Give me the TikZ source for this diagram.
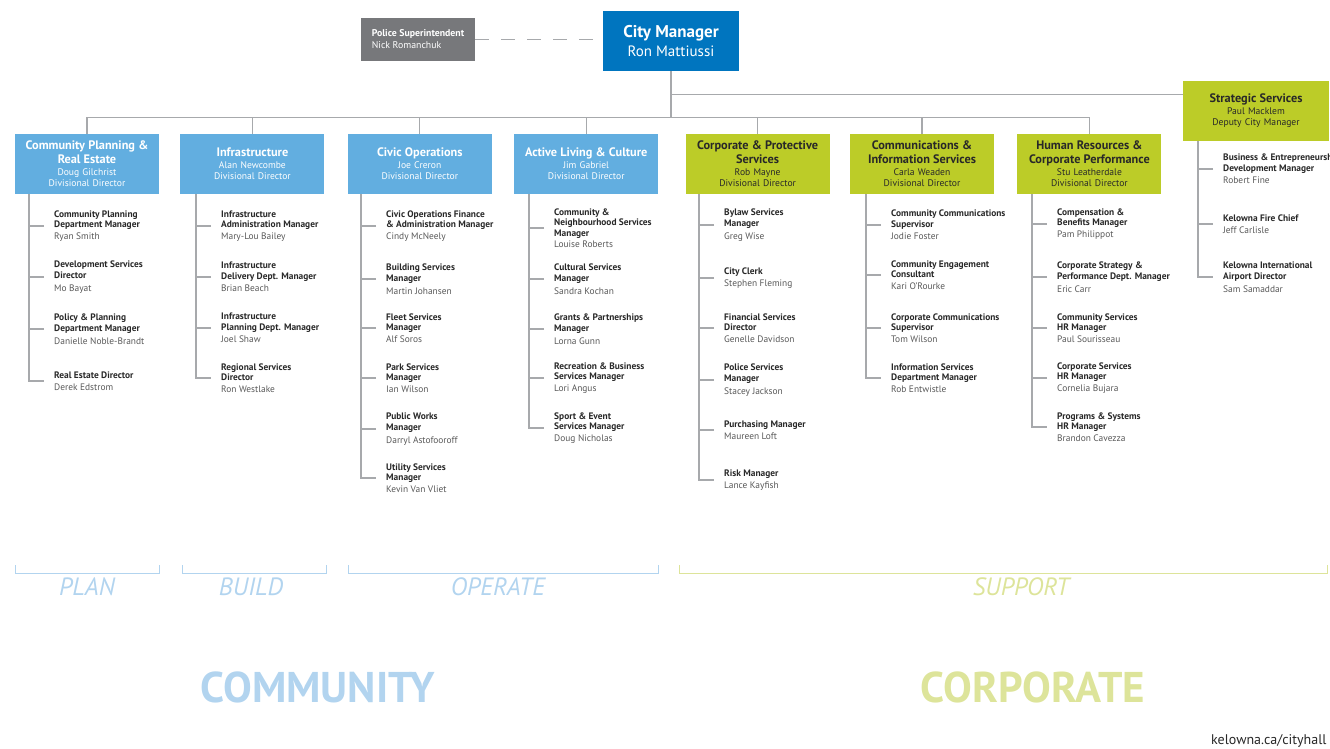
\documentclass[tikz,border=0pt]{standalone}
\usepackage{fontspec}
\setmainfont{PT Sans}
\usepackage{tikz}
\usetikzlibrary{positioning}
\definecolor{managerblue}{RGB}{0, 117, 191}
\definecolor{divisionblue}{RGB}{98, 174, 224}
\definecolor{corporategreen}{RGB}{188, 204, 40}
\definecolor{policegray}{RGB}{119, 120, 123}
\definecolor{linegray}{RGB}{167, 169, 172}
\definecolor{titletext}{RGB}{40, 40, 40}
\definecolor{nametext}{RGB}{88, 88, 88}
\definecolor{communitytint}{RGB}{178, 212, 239}
\definecolor{corporatetint}{RGB}{221, 228, 154}
\newcommand{\divhead}{\fontsize{12.3}{14}\selectfont\bfseries}
\newcommand{\divname}{\fontsize{9.6}{11.4}\selectfont\mdseries}
\newcommand{\who}{\mdseries\color{nametext}}
\tikzset{
  topbox/.style={rectangle, fill=managerblue, text=white, minimum width=136pt,
              minimum height=60pt, align=center},
  policebox/.style={rectangle, fill=policegray, text=white, minimum width=114pt,
              minimum height=43pt, align=left, inner xsep=10pt,
              font=\fontsize{9.8}{12}\selectfont},
  divbox/.style={rectangle, fill=divisionblue, text=white, text width=#1,
              align=center, minimum height=60pt, inner xsep=3pt, font=\divname},
  divbox/.default=138pt,
  corpbox/.style={rectangle, fill=corporategreen, text=titletext, text width=#1,
              align=center, minimum height=60pt, inner xsep=3pt, font=\divname},
  corpbox/.default=138pt,
  staff/.style={anchor=west, align=left, inner xsep=10pt, inner ysep=1pt,
              text=titletext, font=\fontsize{9.4}{10.8}\selectfont\bfseries},
  link/.style={draw=linegray, line width=1.1pt},
  dashlink/.style={link, dash pattern=on 14pt off 12pt},
  bluebracket/.style={draw=communitytint, line width=1pt},
  greenbracket/.style={draw=corporatetint, line width=1pt},
  phase/.style={font=\fontsize{25}{28}\selectfont\itshape},
  group/.style={font=\fontsize{43}{48}\selectfont\bfseries},
}

\begin{document}
\begin{tikzpicture}[x=1pt, y=-1pt]
  \path[use as bounding box, clip] (0,0) rectangle (1330,749);

  \node[topbox] (cm) at (671,41)
        {\fontsize{17}{19}\selectfont\bfseries City Manager\\[3pt]\fontsize{15}{17}\selectfont\mdseries Ron Mattiussi};
  \node[policebox] (ps) at (418,39.5) {\bfseries Police Superintendent\\\mdseries Nick Romanchuk};

  \node[divbox] (cp) at (87,164)
        {\divhead Community Planning \&\\Real Estate\\\divname Doug Gilchrist\\Divisional Director};
  \node[divbox, right=21pt of cp] (inf)
        {\divhead Infrastructure\\\divname Alan Newcombe\\Divisional Director};
  \node[divbox, right=23pt of inf] (civ)
        {\divhead Civic Operations\\\divname Joe Creron\\Divisional Director};
  \node[divbox, right=22pt of civ] (alc)
        {\divhead Active Living \& Culture\\\divname Jim Gabriel\\Divisional Director};
  \node[corpbox, right=27pt of alc] (cps)
        {\divhead Corporate \& Protective\\Services\\\divname Rob Mayne\\Divisional Director};
  \node[corpbox, right=20pt of cps] (cis)
        {\divhead Communications \&\\Information Services\\\divname Carla Weaden\\Divisional Director};
  \node[corpbox, right=23pt of cis] (hrc)
        {\divhead Human Resources \&\\Corporate Performance\\\divname Stu Leatherdale\\Divisional Director};
  \node[corpbox=140pt, inner ysep=6pt, minimum height=60pt] (ss) at (1256,111)
        {\divhead Strategic Services\\\divname Paul Macklem\\Deputy City Manager\\[-3pt]};

  \node[staff] (cp1) at (44,226) {Community Planning\\Department Manager\\[1pt]\who Ryan Smith};
  \node[staff] (cp2) at (44,277) {Development Services\\Director\\[2pt]\who Mo Bayat};
  \node[staff] (cp3) at (44,329) {Policy \& Planning\\Department Manager\\[2pt]\who Danielle Noble-Brandt};
  \node[staff] (cp4) at (44,381) {Real Estate Director\\[1pt]\who Derek Edstrom};

  \node[staff] (inf1) at (211,226) {Infrastructure\\Administration Manager\\[1pt]\who Mary-Lou Bailey};
  \node[staff] (inf2) at (211,277) {Infrastructure\\Delivery Dept. Manager\\[1pt]\who Brian Beach};
  \node[staff] (inf3) at (211,328) {Infrastructure\\Planning Dept. Manager\\[1pt]\who Joel Shaw};
  \node[staff] (inf4) at (211,378) {Regional Services\\Director\\[1pt]\who Ron Westlake};

  \node[staff] (civ1) at (376,226) {Civic Operations Finance\\\& Administration Manager\\[1pt]\who Cindy McNeely};
  \node[staff] (civ2) at (376,279) {Building Services\\Manager\\[2pt]\who Martin Johansen};
  \node[staff] (civ3) at (376,328) {Fleet Services\\Manager\\[1pt]\who Alf Soros};
  \node[staff] (civ4) at (376,378) {Park Services\\Manager\\[1pt]\who Ian Wilson};
  \node[staff] (civ5) at (376,429) {Public Works\\Manager\\[2pt]\who Darryl Astofooroff};
  \node[staff] (civ6) at (376,478) {Utility Services\\Manager\\[1pt]\who Kevin Van Vliet};

  \node[staff] (alc1) at (544,228) {Community \&\\Neighbourhood Services\\Manager\\[0pt]\who Louise Roberts};
  \node[staff] (alc2) at (544,279) {Cultural Services\\Manager\\[2pt]\who Sandra Kochan};
  \node[staff] (alc3) at (544,329) {Grants \& Partnerships\\Manager\\[2pt]\who Lorna Gunn};
  \node[staff] (alc4) at (544,378) {Recreation \& Business\\Services Manager\\[1pt]\who Lori Angus};
  \node[staff] (alc5) at (544,428) {Sport \& Event\\Services Manager\\[1pt]\who Doug Nicholas};

  \node[staff] (cps1) at (714,225) {Bylaw Services\\Manager\\[2pt]\who Greg Wise};
  \node[staff] (cps2) at (714,278) {City Clerk\\[1pt]\who Stephen Fleming};
  \node[staff] (cps3) at (714,328) {Financial Services\\Director\\[1pt]\who Genelle Davidson};
  \node[staff] (cps4) at (714,380) {Police Services\\Manager\\[2pt]\who Stacey Jackson};
  \node[staff] (cps5) at (714,430) {Purchasing Manager\\[1pt]\who Maureen Loft};
  \node[staff] (cps6) at (714,480) {Risk Manager\\[1pt]\who Lance Kayfish};

  \node[staff] (cis1) at (881,225) {Community Communications\\Supervisor\\[1pt]\who Jodie Foster};
  \node[staff] (cis2) at (881,275) {Community Engagement\\Consultant\\[1pt]\who Kari O'Rourke};
  \node[staff] (cis3) at (881,328) {Corporate Communications\\Supervisor\\[1pt]\who Tom Wilson};
  \node[staff] (cis4) at (881,378) {Information Services\\Department Manager\\[1pt]\who Rob Entwistle};

  \node[staff] (hrc1) at (1047,224) {Compensation \&\\Benefits Manager\\[1pt]\who Pam Philippot};
  \node[staff] (hrc2) at (1047,277) {Corporate Strategy \&\\Performance Dept. Manager\\[2pt]\who Eric Carr};
  \node[staff] (hrc3) at (1047,328) {Community Services\\HR Manager\\[1pt]\who Paul Sourisseau};
  \node[staff] (hrc4) at (1047,378) {Corporate Services\\HR Manager\\[1pt]\who Cornelia Bujara};
  \node[staff] (hrc5) at (1047,427) {Programs \& Systems\\HR Manager\\[1pt]\who Brandon Cavezza};

  \node[staff] (ss1) at (1213,169) {Business \& Entrepreneurship\\Development Manager\\[1pt]\who Robert Fine};
  \node[staff] (ss2) at (1213,224) {Kelowna Fire Chief\\[1pt]\who Jeff Carlisle};
  \node[staff] (ss3) at (1213,277) {Kelowna International\\Airport Director\\[2pt]\who Sam Samaddar};

  \draw[dashlink] (ps.east) -- (ps.east -| cm.west);
  \draw[link] (cm.south) -- ++(0,46) coordinate (hub);
  \draw[link] (cp.north) |- (hub) -| (hrc.north);
  \draw[link] (inf.north) -- (inf.north |- hub);
  \draw[link] (civ.north) -- (civ.north |- hub);
  \draw[link] (alc.north) -- (alc.north |- hub);
  \draw[link] (cps.north) -- (cps.north |- hub);
  \draw[link] (cis.north) -- (cis.north |- hub);
  \coordinate (ss-in) at ([yshift=-14pt]ss.north west);
  \draw[link] (ss-in) -- (ss-in -| cm.south);

  \coordinate (cp-stem) at ([xshift=-15pt]cp1.west |- cp.south);
  \coordinate (inf-stem) at ([xshift=-15pt]inf1.west |- inf.south);
  \coordinate (civ-stem) at ([xshift=-15pt]civ1.west |- civ.south);
  \coordinate (alc-stem) at ([xshift=-15pt]alc1.west |- alc.south);
  \coordinate (cps-stem) at ([xshift=-15pt]cps1.west |- cps.south);
  \coordinate (cis-stem) at ([xshift=-15pt]cis1.west |- cis.south);
  \coordinate (hrc-stem) at ([xshift=-15pt]hrc1.west |- hrc.south);
  \coordinate (ss-stem) at ([xshift=-15pt]ss1.west |- ss.south);

  \draw[link] (cp-stem) |- (cp4.west) (cp1.west) -- (cp1.west -| cp-stem)
        (cp2.west) -- (cp2.west -| cp-stem) (cp3.west) -- (cp3.west -| cp-stem);
  \draw[link] (inf-stem) |- (inf4.west) (inf1.west) -- (inf1.west -| inf-stem)
        (inf2.west) -- (inf2.west -| inf-stem) (inf3.west) -- (inf3.west -| inf-stem);
  \draw[link] (civ-stem) |- (civ6.west) (civ1.west) -- (civ1.west -| civ-stem)
        (civ2.west) -- (civ2.west -| civ-stem) (civ3.west) -- (civ3.west -| civ-stem)
        (civ4.west) -- (civ4.west -| civ-stem) (civ5.west) -- (civ5.west -| civ-stem);
  \draw[link] (alc-stem) |- (alc5.west) (alc1.west) -- (alc1.west -| alc-stem)
        (alc2.west) -- (alc2.west -| alc-stem) (alc3.west) -- (alc3.west -| alc-stem)
        (alc4.west) -- (alc4.west -| alc-stem);
  \draw[link] (cps-stem) |- (cps6.west) (cps1.west) -- (cps1.west -| cps-stem)
        (cps2.west) -- (cps2.west -| cps-stem) (cps3.west) -- (cps3.west -| cps-stem)
        (cps4.west) -- (cps4.west -| cps-stem) (cps5.west) -- (cps5.west -| cps-stem);
  \draw[link] (cis-stem) |- (cis4.west) (cis1.west) -- (cis1.west -| cis-stem)
        (cis2.west) -- (cis2.west -| cis-stem) (cis3.west) -- (cis3.west -| cis-stem);
  \draw[link] (hrc-stem) |- (hrc5.west) (hrc1.west) -- (hrc1.west -| hrc-stem)
        (hrc2.west) -- (hrc2.west -| hrc-stem) (hrc3.west) -- (hrc3.west -| hrc-stem)
        (hrc4.west) -- (hrc4.west -| hrc-stem);
  \draw[link] (ss-stem) |- (ss3.west) (ss1.west) -- (ss1.west -| ss-stem)
        (ss2.west) -- (ss2.west -| ss-stem);

  % brackets along the bottom
  \draw[bluebracket] (15,565) |- (159,573) -- (159,565);
  \draw[bluebracket] (182,565) |- (326,573) -- (326,565);
  \draw[bluebracket] (348,565) |- (658,573) -- (658,565);
  \draw[greenbracket] (679,565) |- (1327,573) -- (1327,565);
  \node[phase, text=communitytint] (plan) at (87,587) {PLAN};
  \node[phase, text=communitytint] (build) at (251,587) {BUILD};
  \node[phase, text=communitytint] (operate) at (498,587) {OPERATE};
  \node[phase, text=corporatetint] (support) at (1021,587) {SUPPORT};
  \node[group, text=communitytint] (community) at (318,687) {COMMUNITY};
  \node[group, text=corporatetint] (corporate) at (1033,687) {CORPORATE};
  \node[anchor=east, text=titletext, font=\fontsize{14}{16}\selectfont] (web) at (1330,741) {kelowna.ca/cityhall};
\end{tikzpicture}
\end{document}
